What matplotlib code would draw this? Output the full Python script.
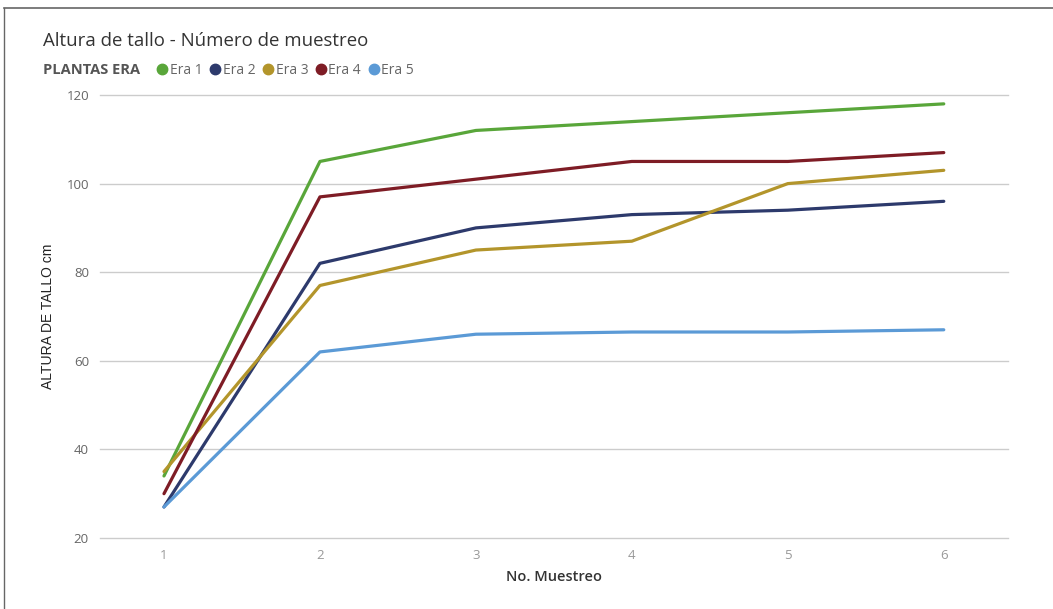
import matplotlib.pyplot as plt
from matplotlib.lines import Line2D
import numpy as np

# data
muestreo = [1, 2, 3, 4, 5, 6]
era_1 = [34, 105, 112, 114, 116, 118]
era_2 = [27, 82, 90, 93, 94, 96]
era_3 = [35, 77, 85, 87, 100, 103]
era_4 = [30, 97, 101, 105, 105, 107]
era_5 = [27, 62, 66, 66.5, 66.5, 67]
series_names = ['Era 1', 'Era 2', 'Era 3', 'Era 4', 'Era 5']
y_ticks = [20, 40, 60, 80, 100, 120]

colours = ['#59a63a', '#2d3a6c', '#b3952b', '#7e1c25', '#5b9ad6']

plt.rcParams['font.family'] = ['Open Sans', 'DejaVu Sans']

fig = plt.figure(figsize=(10.53, 6.09), dpi=100)
ax = fig.add_axes([0.095, 0.1166, 0.862, 0.7274])

for ys, c, name in zip([era_1, era_2, era_3, era_4, era_5], colours, series_names):
  ax.plot(muestreo, ys, color=c, lw=2.3, solid_capstyle='round', label=name, zorder=3)

ax.set_xlim(0.59, 6.41)
ax.set_ylim(20, 120)
ax.set_yticks(y_ticks)
ax.set_xticks(muestreo)
ax.grid(axis='y', color='#cccccc', lw=1)
for gl in ax.get_ygridlines():
  gl.set_clip_on(False)
ax.set_axisbelow(True)
for s in ax.spines.values():
  s.set_visible(False)
ax.tick_params(axis='both', length=0, labelsize=9.5, colors='#999999', pad=8)
ax.tick_params(axis='y', colors='#666666')

ax.set_xlabel('No. Muestreo', fontsize=10.5, fontweight='semibold', color='#333333', labelpad=6)
ax.set_ylabel('ALTURA DE TALLO cm', fontsize=10, color='#222222', labelpad=8,
              family=['Liberation Sans Narrow', 'Liberation Sans', 'DejaVu Sans'])

fig.text(0.041, 0.925, 'Altura de tallo - Número de muestreo', fontsize=13.4,
         color='#333333', va='baseline')
fig.text(0.041, 0.879, 'PLANTAS ERA', fontsize=10.5, fontweight='bold',
         color='#555555', va='baseline')

handles = [Line2D([], [], ls='none', marker='o', markersize=7.5, color=c) for c in colours]
fig.legend(handles, series_names, loc='center left', bbox_to_anchor=(0.145, 0.884),
           ncol=5, frameon=False, handlelength=0.6, handletextpad=0.25,
           columnspacing=0.6, fontsize=10, labelcolor='#666666', borderaxespad=0)

# frame lines of the original screenshot
fig.add_artist(Line2D([0.004, 1.0], [1 - 8 / 609, 1 - 8 / 609], color='#666666', lw=1.2))
fig.add_artist(Line2D([0.004, 0.004], [0, 1 - 8 / 609], color='#666666', lw=1.0))

plt.savefig('out.png', dpi=100)
